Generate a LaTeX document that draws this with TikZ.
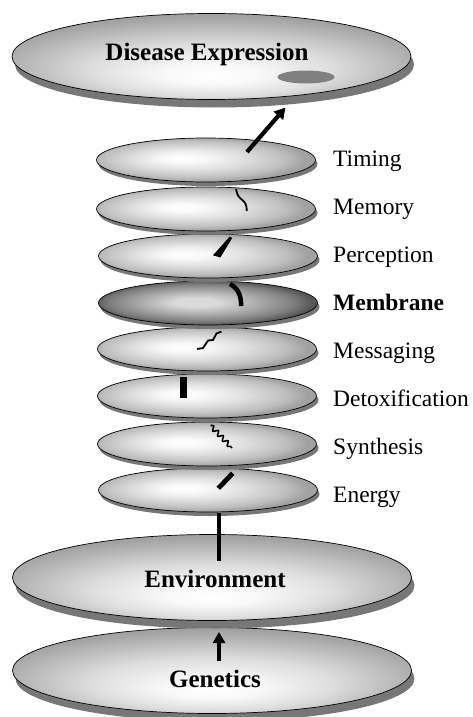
\documentclass[tikz,border=0pt]{standalone}
\usepackage{fontspec}
\setmainfont{Liberation Serif}
\usetikzlibrary{shapes.geometric,shadows,arrows.meta,decorations.pathmorphing}
\definecolor{shadowgray}{HTML}{777777}
\definecolor{spotgray}{HTML}{808080}
\definecolor{gA}{HTML}{F8F8F8}
\definecolor{gB}{HTML}{DEDEDE}
\definecolor{gC}{HTML}{BEBEBE}
\definecolor{gD}{HTML}{A2A2A2}
\definecolor{membcenter}{HTML}{DADADA}
\definecolor{membmid}{HTML}{A8A8A8}
\definecolor{membmid2}{HTML}{7E7E7E}
\definecolor{membedge}{HTML}{575757}
\pgfdeclareradialshading{bigdiskshade}{\pgfpoint{0bp}{-12bp}}{color(0bp)=(white); color(6bp)=(gA); color(15bp)=(gB); color(22bp)=(gC); color(28bp)=(gD); color(45bp)=(gD)}
\pgfdeclareradialshading{middiskshade}{\pgfpoint{-6bp}{2bp}}{color(0bp)=(white); color(5bp)=(gA); color(13bp)=(gB); color(21bp)=(gC); color(25bp)=(gD); color(40bp)=(gD)}
\pgfdeclareradialshading{membshade}{\pgfpoint{-3bp}{1bp}}{color(0bp)=(membcenter); color(5bp)=(membcenter); color(14bp)=(membmid); color(21bp)=(membmid2); color(25bp)=(membedge); color(40bp)=(membedge)}
\tikzset{
  diskbase/.style={ellipse, draw=black, line width=0.7pt, inner sep=0pt},
  smalldisk/.style={diskbase, minimum width=219pt, minimum height=44pt, shading=middiskshade,
     drop shadow={shadow xshift=2pt, shadow yshift=-4pt, fill=shadowgray, opacity=1}},
  membdisk/.style={diskbase, minimum width=219pt, minimum height=44pt, shading=membshade,
     drop shadow={shadow xshift=2pt, shadow yshift=-4pt, fill=shadowgray, opacity=1}},
  largedisk/.style={diskbase, minimum width=399pt, minimum height=86pt, shading=bigdiskshade,
     drop shadow={shadow xshift=3pt, shadow yshift=-8pt, fill=shadowgray, opacity=1}},
  hdr/.style={font=\fontsize{25}{29}\selectfont\bfseries, inner sep=0pt, anchor=base},
  lbl/.style={font=\fontsize{23.5}{28}\selectfont, inner sep=0pt, anchor=base west},
  thickarrow/.style={line width=4.2pt, -{Triangle[length=11pt,width=12pt]}},
  bar/.style={line width=4.6pt},
}
\begin{document}
\begin{tikzpicture}[x=1pt,y=-1pt]
\useasboundingbox (0,0) rectangle (472,717);
% disks, bottom first
\node[largedisk] (gen) at (212,670.5) {};
\node[largedisk] (env) at (212,577.5) {};
\node[smalldisk] (energy) at (208,490) {};
\node[smalldisk] (synth) at (207,444) {};
\node[smalldisk] (detox) at (207,396) {};
\node[smalldisk] (mess) at (207,349) {};
\node[membdisk] (memb) at (208,303) {};
\node[smalldisk] (perc) at (208,256) {};
\node[smalldisk] (mem) at (206,209) {};
\node[smalldisk] (tim) at (206,160) {};
\node[largedisk] (dis) at (211.5,56.5) {};
\node[ellipse, fill=spotgray, inner sep=0pt, minimum width=57pt, minimum height=13pt] (spot) at (306,77) {};
% header texts
\node[hdr] (tdis) at (207,60) {Disease Expression};
\node[hdr] (tenv) at (215,587) {Environment};
\node[hdr] (tgen) at (215,687) {Genetics};
% side labels
\node[lbl] (ltim) at (333,166) {Timing};
\node[lbl] (lmem) at (333,214) {Memory};
\node[lbl] (lperc) at (333,262) {Perception};
\node[lbl, font=\fontsize{23.5}{28}\selectfont\bfseries] (lmemb) at (333,310) {Membrane};
\node[lbl] (lmess) at (333,358) {Messaging};
\node[lbl] (ldetox) at (333,406) {Detoxification};
\node[lbl] (lsynth) at (333,454) {Synthesis};
\node[lbl] (lenergy) at (333,502) {Energy};
% connector coordinates
\coordinate (ga) at (219,661);
\coordinate (gb) at (219,632);
\coordinate (ea) at (219,513);
\coordinate (eb) at (219,561);
\coordinate (da) at (247,152);
\coordinate (db) at (285.5,107.5);
% connectors and marks
\draw[thickarrow] (ga) -- (gb);
\draw[bar] (ea) -- (eb);
\draw[line width=4.8pt] (232.7,473.3) -- (218.3,488.3);
\draw[line width=1.6pt, decorate, decoration={snake, segment length=7pt, amplitude=2.2pt}] (210.5,425.5) -- (232,448);
\fill (179.5,376.5) rectangle (186.5,397.8);
\draw[line width=1.8pt, line join=miter] (197,349) -- (203,348) -- (208,340.5) -- (213,340) -- (216.5,333.5) -- (221.5,331.5);
\draw[line width=4.5pt] (230,284) .. controls (238,288) and (241.5,296) .. (241,306);
\fill (229.8,236.5) -- (232.2,238) -- (220.3,257.5) -- (213,255.3) -- cycle;
\draw[line width=1.8pt] (236,189) .. controls (237,193) and (237.5,196) .. (240.5,198.5) .. controls (244.5,201.5) and (246.8,203.5) .. (246.7,211);
\draw[thickarrow] (da) -- (db);
\end{tikzpicture}
\end{document}
